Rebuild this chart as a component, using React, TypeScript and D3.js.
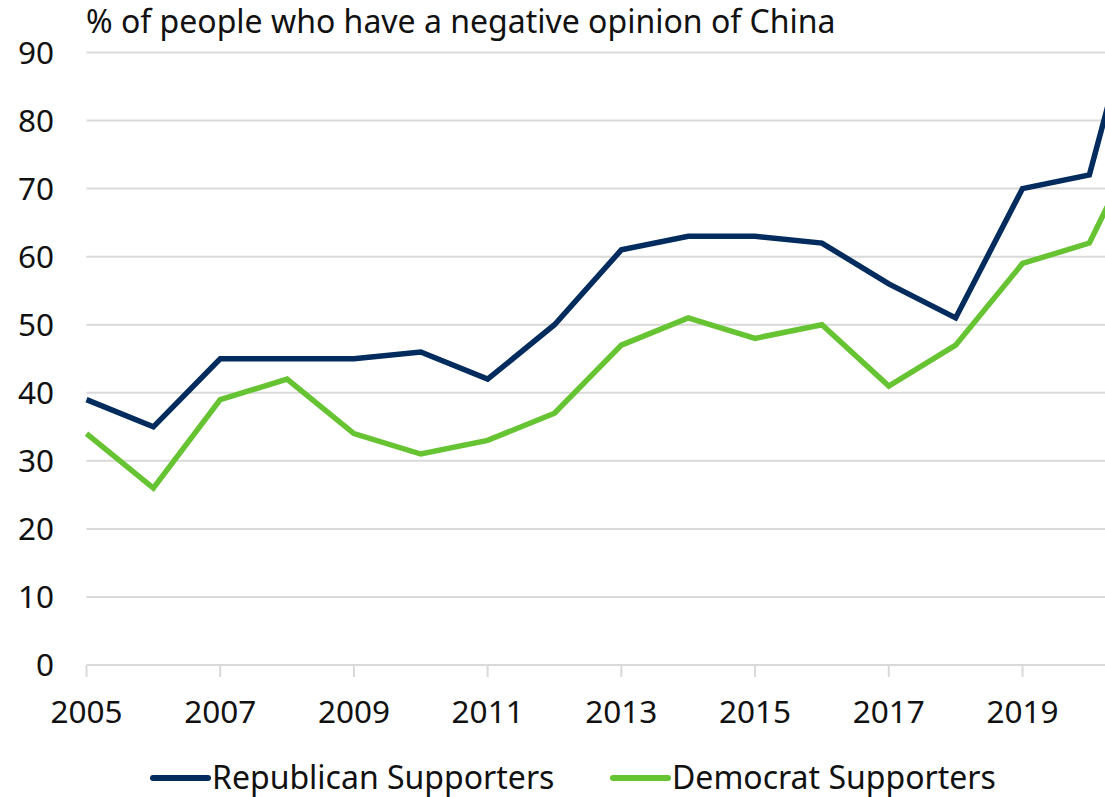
import React from "react";
import * as d3 from "d3";

const years = [2005, 2006, 2007, 2008, 2009, 2010, 2011, 2012, 2013, 2014, 2015, 2016, 2017, 2018, 2019, 2020, 2020.3];
const republican = [39, 35, 45, 45, 45, 46, 42, 50, 61, 63, 63, 62, 56, 51, 70, 72, 83];
const democrat = [34, 26, 39, 42, 34, 31, 33, 37, 47, 51, 48, 50, 41, 47, 59, 62, 68];
const xTicks = [2005, 2007, 2009, 2011, 2013, 2015, 2017, 2019];
const yTicks = [0, 10, 20, 30, 40, 50, 60, 70, 80, 90];
const seriesNames = ["Republican Supporters", "Democrat Supporters"];
const title = "% of people who have a negative opinion of China";

const W = 1105;
const H = 797;
const COLORS = ["#022b5e", "#66c433"];
const FONT = "'Noto Sans', 'Open Sans', sans-serif";

export default function App() {
  const x = d3.scaleLinear().domain([2005, 2019]).range([86.5, 1022.5]);
  const y = d3.scaleLinear().domain([0, 90]).range([665, 52.5]);
  const line = d3
    .line<number>()
    .x((_, i) => x(years[i]))
    .y((d) => y(d));
  const series = [republican, democrat];
  const legendX = [153, 613];

  return (
    <svg
      width={W}
      height={H}
      style={{ position: "absolute", left: 0, top: 0, background: "#fff" }}
      fontFamily={FONT}
    >
      <rect width={W} height={H} fill="#fff" />
      <text x={86} y={33} fontSize={32} fill="#111">
        {title}
      </text>
      {yTicks.map((t) => (
        <g key={t}>
          <line x1={86.5} x2={W} y1={y(t)} y2={y(t)} stroke="#d9d9d9" strokeWidth={2} />
          <text x={54} y={y(t)} dy="0.36em" textAnchor="end" fontSize={31.5} fill="#111">
            {t}
          </text>
        </g>
      ))}
      {xTicks.map((t) => (
        <g key={t}>
          <line x1={x(t)} x2={x(t)} y1={665} y2={677} stroke="#d9d9d9" strokeWidth={2} />
          <text x={x(t)} y={723} textAnchor="middle" fontSize={31.5} fill="#111">
            {t}
          </text>
        </g>
      ))}
      {series.map((s, i) => (
        <path
          key={i}
          d={line(s) || ""}
          fill="none"
          stroke={COLORS[i]}
          strokeWidth={5.5}
          strokeLinejoin="miter"
        />
      ))}
      {seriesNames.map((n, i) => (
        <g key={n}>
          <line
            x1={legendX[i]}
            x2={legendX[i] + 55}
            y1={778}
            y2={778}
            stroke={COLORS[i]}
            strokeWidth={6}
            strokeLinecap="round"
          />
          <text x={legendX[i] + 59} y={789} fontSize={32} fill="#111">
            {n}
          </text>
        </g>
      ))}
    </svg>
  );
}
